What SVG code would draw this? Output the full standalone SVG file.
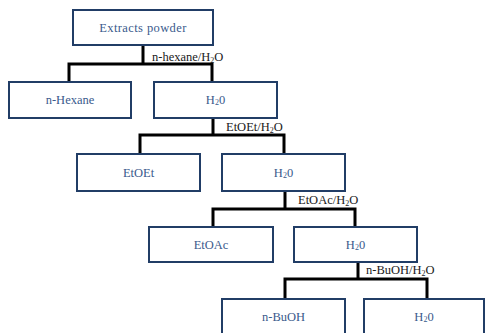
<svg xmlns="http://www.w3.org/2000/svg" width="486" height="333" viewBox="0 0 486 333">
<style>
.box{fill:#fff;stroke:#213d66;stroke-width:2}
.bt{font-family:"Liberation Serif",serif;font-size:12.5px;fill:#3a5a8c;text-anchor:middle;dominant-baseline:central}
.lb{font-family:"Liberation Serif",serif;font-size:12.5px;fill:#1a1a1a}
.sub{font-size:8px}
.c{fill:none;stroke:#000;stroke-width:3;stroke-linejoin:miter}
</style>
<rect width="486" height="333" fill="#fff"/>
<g id="connectors">
<path class="c" d="M143,45 V64 M69,82 V64 H212 V82"/>
<path class="c" d="M213,118 V135 M140,154 V135 H284 V154"/>
<path class="c" d="M285,191 V209 M213,227 V209 H355 V227"/>
<path class="c" d="M358,262 V279 M285,299 V279 H427 V299"/>
<text class="lb" x="152" y="61">n-hexane/H<tspan class="sub" dy="2">2</tspan><tspan dy="-2">O</tspan></text>
<text class="lb" x="226" y="131">EtOEt/H<tspan class="sub" dy="2">2</tspan><tspan dy="-2">O</tspan></text>
<text class="lb" x="298" y="204">EtOAc/H<tspan class="sub" dy="2">2</tspan><tspan dy="-2">O</tspan></text>
<text class="lb" x="366" y="274">n-BuOH/H<tspan class="sub" dy="2">2</tspan><tspan dy="-2">O</tspan></text>
</g>
<g id="extracts"><rect class="box" x="73" y="10" width="140" height="35"/><text class="bt" x="143" y="28" letter-spacing="0.4">Extracts  powder</text></g>
<g id="nhexane"><rect class="box" x="9" y="82" width="122" height="36"/><text class="bt" x="70" y="100">n-Hexane</text></g>
<g id="h2o1"><rect class="box" x="154" y="82" width="123" height="36"/><text class="bt" x="215.5" y="100">H<tspan class="sub" dy="2">2</tspan><tspan dy="-2">0</tspan></text></g>
<g id="etoet"><rect class="box" x="77" y="154" width="123" height="37"/><text class="bt" x="138.5" y="172.5">EtOEt</text></g>
<g id="h2o2"><rect class="box" x="222" y="154" width="123" height="37"/><text class="bt" x="283.5" y="172.5">H<tspan class="sub" dy="2">2</tspan><tspan dy="-2">0</tspan></text></g>
<g id="etoac"><rect class="box" x="149" y="227" width="124" height="35"/><text class="bt" x="211" y="244.5">EtOAc</text></g>
<g id="h2o3"><rect class="box" x="294" y="227" width="123" height="35"/><text class="bt" x="355.5" y="244.5">H<tspan class="sub" dy="2">2</tspan><tspan dy="-2">0</tspan></text></g>
<g id="nbuoh"><rect class="box" x="222" y="299" width="123" height="40"/><text class="bt" x="283.5" y="317">n-BuOH</text></g>
<g id="h2o4"><rect class="box" x="364" y="299" width="120" height="40"/><text class="bt" x="424" y="317">H<tspan class="sub" dy="2">2</tspan><tspan dy="-2">0</tspan></text></g>
</svg>
